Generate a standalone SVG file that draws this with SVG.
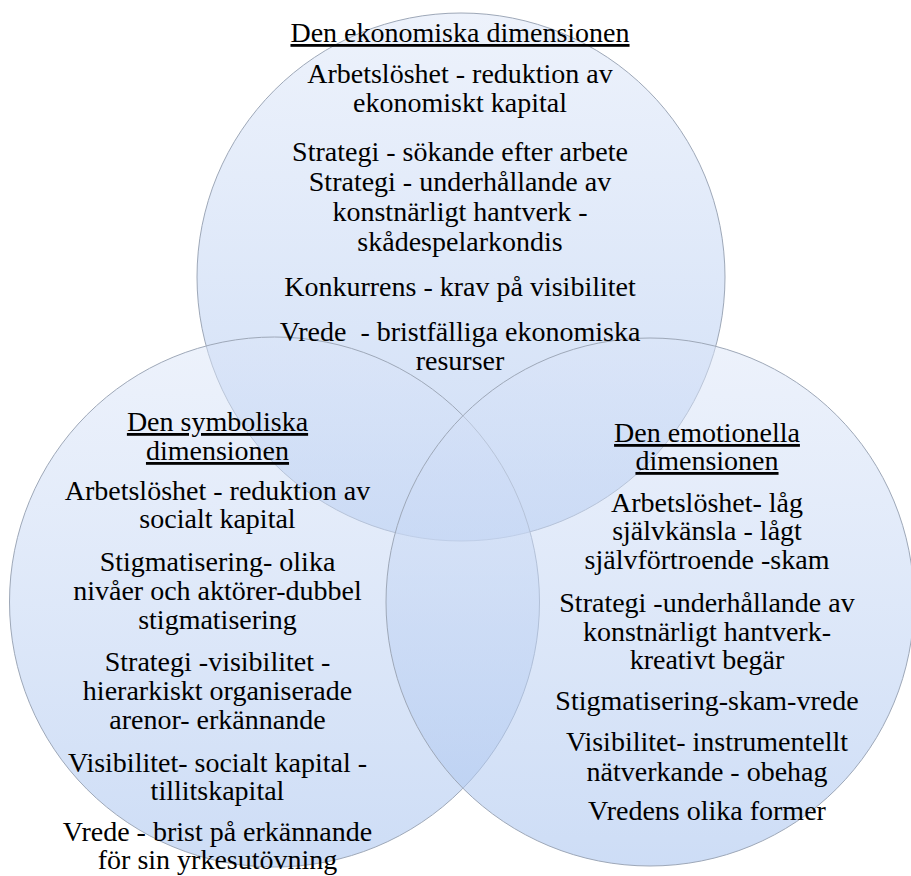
<svg xmlns="http://www.w3.org/2000/svg" width="911" height="876" viewBox="0 0 911 876">
  <defs>
    <linearGradient id="venn" x1="0" y1="0" x2="0" y2="1">
      <stop offset="0" stop-color="#dbe5f8" stop-opacity="0.5"/>
      <stop offset="1" stop-color="#a9c4ef" stop-opacity="0.58"/>
    </linearGradient>
    <style>
      .circle { fill: url(#venn); stroke: #9ea8b8; stroke-width: 1; }
      .lbl { font-family: "Liberation Serif", "Times New Roman", serif; font-size: 28px; fill: #000000; text-anchor: middle; }
      .title { text-decoration: underline; }
    </style>
  </defs>
  <rect width="911" height="876" fill="#ffffff"/>

  <g id="shapes">
    <g id="circle-ekonomiska"><circle class="circle" cx="461" cy="277" r="264"/></g>
    <g id="circle-symboliska"><circle class="circle" cx="274.5" cy="602" r="265"/></g>
    <g id="circle-emotionella"><circle class="circle" cx="650" cy="602" r="264"/></g>
  </g>

  <g id="node-ekonomiska" class="lbl" font-family="Liberation Serif, serif">
    <text x="460" y="42" class="title">Den ekonomiska dimensionen</text>
    <text x="460" y="83">Arbetslöshet - reduktion av</text>
    <text x="460" y="112">ekonomiskt kapital</text>
    <text x="460" y="161">Strategi - sökande efter arbete</text>
    <text x="460" y="191">Strategi - underhållande av</text>
    <text x="460" y="221">konstnärligt hantverk -</text>
    <text x="460" y="251">skådespelarkondis</text>
    <text x="460" y="296">Konkurrens - krav på visibilitet</text>
    <text x="460" y="341" xml:space="preserve">Vrede  - bristfälliga ekonomiska</text>
    <text x="460" y="370">resurser</text>
  </g>

  <g id="node-symboliska" class="lbl" font-family="Liberation Serif, serif">
    <text x="217.5" y="431" class="title">Den symboliska</text>
    <text x="217.5" y="460" class="title">dimensionen</text>
    <text x="217.5" y="500">Arbetslöshet - reduktion av</text>
    <text x="217.5" y="528">socialt kapital</text>
    <text x="217.5" y="571">Stigmatisering- olika</text>
    <text x="217.5" y="600">nivåer och aktörer-dubbel</text>
    <text x="217.5" y="629">stigmatisering</text>
    <text x="217.5" y="671">Strategi -visibilitet -</text>
    <text x="217.5" y="700">hierarkiskt organiserade</text>
    <text x="217.5" y="729">arenor- erkännande</text>
    <text x="217.5" y="772">Visibilitet- socialt kapital -</text>
    <text x="217.5" y="800">tillitskapital</text>
    <text x="217.5" y="841">Vrede - brist på erkännande</text>
    <text x="217.5" y="869">för sin yrkesutövning</text>
  </g>

  <g id="node-emotionella" class="lbl" font-family="Liberation Serif, serif">
    <text x="707" y="442" class="title">Den emotionella</text>
    <text x="707" y="470" class="title">dimensionen</text>
    <text x="707" y="512">Arbetslöshet- låg</text>
    <text x="707" y="540">självkänsla - lågt</text>
    <text x="707" y="569">självförtroende -skam</text>
    <text x="707" y="612">Strategi -underhållande av</text>
    <text x="707" y="641">konstnärligt hantverk-</text>
    <text x="707" y="669">kreativt begär</text>
    <text x="707" y="710">Stigmatisering-skam-vrede</text>
    <text x="707" y="751">Visibilitet- instrumentellt</text>
    <text x="707" y="781">nätverkande - obehag</text>
    <text x="707" y="820">Vredens olika former</text>
  </g>
</svg>
